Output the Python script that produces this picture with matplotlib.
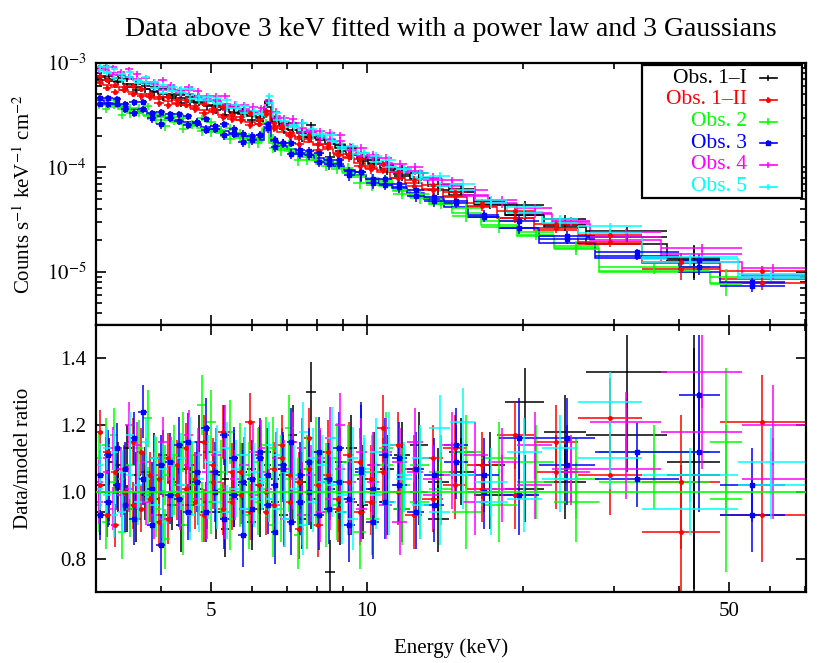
import numpy as np
import matplotlib
matplotlib.use('Agg')
import matplotlib.pyplot as plt
from matplotlib.ticker import FixedLocator, FixedFormatter, NullFormatter, LogLocator
from matplotlib.patches import Rectangle

plt.rcParams['font.family'] = ['Liberation Serif', 'DejaVu Serif']
plt.rcParams['mathtext.fontset'] = 'stix'

# ---------------- data (model in units of 1e-5 counts/s/keV/cm^2) ----------------
labels = ['Obs. 1\u2013I', 'Obs. 1\u2013II', 'Obs. 2', 'Obs. 3', 'Obs. 4', 'Obs. 5']
colors = ['#000000', '#ff0000', '#00ff00', '#0000ff', '#ff00ff', '#00ffff']

edges_1I = [3.00, 3.12, 3.25, 3.38, 3.52, 3.66, 3.81, 3.96, 4.12, 4.29, 4.46, 4.64, 4.83, 5.02,
            5.22, 5.43, 5.65, 5.88, 6.12, 6.32, 6.52, 6.78, 7.05, 7.34, 7.64, 7.96, 8.30, 8.68,
            9.10, 9.56, 10.06, 10.62, 11.28, 12.10, 13.10, 14.40, 16.10, 18.50, 22.00, 26.50,
            38.00, 48.00]
model_1I = [73.5, 69.6, 66.0, 62.5, 59.4, 56.5, 53.8, 51.0, 48.5, 46.2, 43.9, 41.8, 39.8, 37.9,
            36.0, 34.2, 32.5, 31.0, 29.6, 38.2, 28.0, 24.9, 23.0, 21.3, 19.7, 18.2, 16.6, 15.2,
            13.5, 12.1, 10.9, 9.8, 8.7, 7.7, 6.6, 5.5, 4.45, 3.47, 2.7, 1.83, 1.24]
ratioA_1I = [1.02, 0.97, 1.08, 0.95, 1.05, 0.99, 1.10, 0.93, 1.03, 1.07, 0.96, 1.01, 1.12, 0.94,
             1.04, 0.98, 1.06, 0.91, 1.02, 1.08, 0.97, 1.05, 1.00, 0.92, 1.30, 1.03, 0.76, 1.09,
             0.97, 1.04, 1.01, 1.07, 0.95, 1.14, 1.03, 1.06, 0.99, 1.27, 1.03, 1.36, 1.05]
ratioB_1I = [0.94, 1.09, 1.01, 1.13, 0.92, 1.06, 0.98, 1.11, 0.96, 0.90, 1.08, 1.15, 0.97, 1.05,
             0.89, 1.10, 1.02, 1.07, 0.95, 1.12, 1.04, 0.93, 1.17, 1.03, 0.98, 1.09, 1.01, 0.94,
             1.13, 0.96, 1.08, 0.97, 1.11, 1.00, 0.92, 1.12, 1.08, 1.01, 1.18, 1.17, 1.09]
rerr_1I = [0.07, 0.07, 0.07, 0.07, 0.07, 0.075, 0.075, 0.075, 0.075, 0.08, 0.08, 0.08, 0.08, 0.08,
           0.085, 0.085, 0.085, 0.085, 0.085, 0.07, 0.08, 0.09, 0.09, 0.09, 0.09, 0.095, 0.095,
           0.1, 0.1, 0.1, 0.1, 0.1, 0.1, 0.1, 0.1, 0.1, 0.1, 0.1, 0.11, 0.11, 0.38]

edges_1II = [3.00, 3.10, 3.21, 3.33, 3.46, 3.60, 3.74, 3.89, 4.05, 4.21, 4.38, 4.56, 4.75, 4.95,
             5.16, 5.38, 5.60, 5.83, 6.07, 6.30, 6.50, 6.72, 6.98, 7.26, 7.56, 7.88, 8.22, 8.60,
             9.00, 9.44, 9.92, 10.46, 11.08, 11.85, 12.80, 14.00, 15.60, 17.80, 21.00, 25.50,
             34.00, 48.00, 70.00]
model_1II = [64.2, 61.7, 58.5, 55.6, 52.9, 50.4, 47.9, 45.6, 43.3, 41.3, 39.3, 37.3, 35.4, 33.6,
             31.9, 30.2, 28.7, 27.2, 25.8, 34.4, 24.7, 21.9, 20.5, 18.9, 17.6, 16.3, 14.9, 13.7,
             12.2, 11.0, 9.9, 9.0, 8.0, 7.1, 6.2, 5.2, 4.2, 3.3, 2.5, 1.85, 1.22, 0.85]
ratioA_1II = [1.18, 0.93, 1.06, 1.00, 0.96, 1.12, 0.98, 1.04, 0.92, 1.08, 1.01, 0.97, 1.15, 1.03,
              0.95, 1.06, 0.99, 1.21, 1.02, 0.94, 1.07, 1.10, 0.97, 1.03, 1.16, 0.90, 1.05, 0.98,
              1.11, 0.94, 1.04, 1.19, 1.00, 1.07, 0.98, 1.13, 1.01, 1.17, 1.06, 1.22, 0.88, 0.93]
ratioB_1II = [1.02, 1.12, 0.90, 1.07, 1.15, 0.95, 1.05, 0.91, 1.10, 0.99, 1.13, 1.04, 0.93, 1.08,
              1.18, 0.97, 1.06, 0.94, 1.11, 1.00, 0.96, 1.14, 1.05, 0.89, 1.07, 1.02, 1.12, 0.95,
              1.03, 1.09, 0.97, 1.06, 1.14, 0.93, 1.10, 1.02, 1.08, 0.99, 1.15, 1.05, 1.03, 1.21]
rerr_1II = [0.065, 0.065, 0.065, 0.07, 0.07, 0.07, 0.07, 0.075, 0.075, 0.075, 0.075, 0.08, 0.08,
            0.08, 0.08, 0.085, 0.085, 0.085, 0.085, 0.07, 0.08, 0.09, 0.09, 0.09, 0.09, 0.095,
            0.095, 0.1, 0.1, 0.1, 0.1, 0.1, 0.1, 0.1, 0.1, 0.1, 0.1, 0.1, 0.11, 0.12, 0.2, 0.14]

edges_2 = [3.00, 3.08, 3.19, 3.31, 3.43, 3.56, 3.70, 3.85, 4.00, 4.16, 4.33, 4.51, 4.70, 4.90,
           5.11, 5.33, 5.56, 5.80, 6.05, 6.28, 6.48, 6.70, 6.95, 7.22, 7.51, 7.82, 8.16, 8.53,
           8.95, 9.42, 9.95, 10.55, 11.25, 12.10, 13.20, 14.60, 16.60, 19.50, 23.00, 28.00,
           46.00, 53.00]
model_2 = [41.5, 40.0, 38.1, 36.4, 34.6, 33.1, 31.5, 30.1, 28.7, 27.4, 26.1, 25.0, 23.7, 22.6,
           21.5, 20.4, 19.4, 18.4, 17.6, 23.5, 17.1, 15.3, 14.3, 13.4, 12.7, 11.9, 11.0, 10.1,
           9.1, 8.1, 7.4, 6.65, 5.9, 5.2, 4.45, 3.65, 2.8, 2.2, 1.7, 1.0, 0.78]
ratioA_2 = [0.96, 1.14, 1.03, 0.88, 1.08, 1.00, 1.22, 0.95, 1.05, 1.11, 0.90, 1.02, 1.26, 0.97,
            1.06, 1.18, 0.99, 0.93, 1.09, 1.01, 1.13, 0.95, 1.04, 0.87, 1.07, 1.00, 0.94, 1.10,
            0.98, 1.05, 0.92, 1.08, 1.02, 0.97, 1.06, 1.12, 0.96, 1.09, 1.04, 1.03, 1.15]
ratioB_2 = [1.10, 0.91, 1.17, 1.04, 0.95, 1.13, 0.99, 1.08, 0.86, 1.02, 1.15, 1.06, 0.94, 1.21,
            1.01, 0.92, 1.11, 1.05, 0.97, 1.14, 0.90, 1.07, 1.19, 1.00, 0.93, 1.12, 1.04, 0.96,
            1.09, 0.88, 1.06, 1.13, 0.95, 1.08, 1.01, 0.94, 1.10, 1.03, 0.97, 1.12, 0.98]
rerr_2 = [0.08, 0.08, 0.08, 0.08, 0.085, 0.085, 0.085, 0.085, 0.09, 0.09, 0.09, 0.09, 0.09, 0.095,
          0.095, 0.095, 0.095, 0.1, 0.1, 0.085, 0.095, 0.1, 0.1, 0.1, 0.1, 0.105, 0.105, 0.105,
          0.11, 0.11, 0.11, 0.11, 0.11, 0.11, 0.11, 0.11, 0.11, 0.11, 0.12, 0.08, 0.22]

edges_3 = [3.00, 3.11, 3.23, 3.35, 3.48, 3.62, 3.77, 3.92, 4.08, 4.25, 4.42, 4.60, 4.79, 4.99,
           5.20, 5.42, 5.64, 5.87, 6.11, 6.33, 6.53, 6.75, 7.01, 7.29, 7.59, 7.91, 8.25, 8.62,
           9.03, 9.48, 9.98, 10.54, 11.18, 11.95, 12.90, 14.10, 15.70, 18.00, 21.50, 27.50,
           40.00, 48.00, 64.00]
model_3 = [43.9, 41.8, 39.9, 37.9, 36.1, 34.5, 32.8, 31.3, 29.8, 28.4, 27.0, 25.8, 24.5, 23.4,
           22.3, 21.2, 20.2, 19.2, 18.4, 24.6, 17.8, 15.9, 14.9, 13.9, 13.1, 12.2, 11.3, 10.4,
           9.35, 8.45, 7.75, 7.0, 6.3, 5.65, 4.95, 4.2, 3.35, 2.65, 1.91, 1.37, 1.0, 0.78]
ratioA_3 = [1.05, 0.97, 1.13, 1.07, 0.92, 1.24, 1.01, 0.84, 1.09, 0.98, 1.15, 1.03, 0.94, 1.06,
            1.17, 0.99, 0.87, 1.04, 1.10, 0.96, 1.02, 1.08, 0.91, 1.05, 1.00, 1.12, 0.95, 1.03,
            0.90, 1.07, 1.01, 0.97, 1.10, 0.94, 1.05, 1.09, 1.00, 1.16, 1.16, 1.12, 1.29, 0.93]
ratioB_3 = [0.93, 1.11, 1.02, 0.96, 1.16, 1.04, 0.90, 1.08, 0.99, 1.14, 0.94, 1.06, 1.19, 1.00,
            0.92, 1.10, 1.03, 0.95, 1.12, 1.05, 0.88, 1.07, 1.15, 0.97, 1.09, 0.93, 1.04, 1.13,
            0.98, 1.06, 0.91, 1.11, 1.02, 1.07, 0.96, 1.14, 1.05, 0.99, 1.08, 1.04, 1.12, 1.02]
rerr_3 = [0.075, 0.075, 0.075, 0.08, 0.08, 0.08, 0.08, 0.09, 0.085, 0.085, 0.085, 0.09, 0.09,
          0.09, 0.09, 0.095, 0.095, 0.095, 0.1, 0.085, 0.095, 0.1, 0.1, 0.1, 0.1, 0.105, 0.105,
          0.11, 0.11, 0.2, 0.11, 0.11, 0.11, 0.11, 0.11, 0.11, 0.11, 0.12, 0.12, 0.085, 0.18, 0.11]

edges_4 = [3.00, 3.09, 3.18, 3.29, 3.41, 3.54, 3.67, 3.81, 3.96, 4.11, 4.27, 4.44, 4.62, 4.81,
           5.01, 5.22, 5.44, 5.67, 5.91, 6.16, 6.36, 6.56, 6.80, 7.06, 7.34, 7.64, 7.96, 8.30,
           8.67, 9.07, 9.51, 10.00, 10.55, 11.20, 11.95, 12.85, 13.95, 15.30, 17.10, 19.50,
           22.80, 27.00, 37.00, 53.00, 70.00]
model_4 = [88.2, 84.8, 80.9, 76.9, 72.8, 69.2, 65.9, 62.5, 59.3, 56.4, 53.6, 50.8, 48.2, 45.6,
           43.1, 40.8, 38.5, 36.3, 34.2, 32.7, 43.5, 31.2, 27.5, 25.5, 23.6, 21.9, 20.2, 18.6,
           16.9, 15.2, 13.6, 12.2, 11.0, 9.85, 8.75, 7.7, 6.6, 5.5, 4.5, 3.6, 2.85, 2.0, 1.25, 0.9]
ratioA_4 = [1.03, 1.10, 0.95, 1.07, 1.01, 1.14, 0.97, 1.05, 0.92, 1.09, 1.02, 1.17, 0.98, 1.06,
            1.11, 0.94, 1.04, 1.08, 0.99, 1.13, 1.01, 0.96, 1.07, 1.15, 0.93, 1.05, 1.10, 0.98,
            1.20, 1.03, 0.95, 1.08, 1.12, 0.91, 1.06, 1.04, 1.14, 0.97, 1.09, 1.02, 1.07, 1.21,
            1.36, 1.20]
ratioB_4 = [0.97, 1.06, 1.13, 0.99, 1.20, 1.02, 1.09, 0.93, 1.15, 1.04, 0.96, 1.08, 1.11, 0.94,
            1.03, 1.18, 1.00, 0.95, 1.12, 1.06, 0.98, 1.10, 0.92, 1.04, 1.13, 1.00, 0.94, 1.16,
            1.07, 0.97, 1.12, 1.03, 0.96, 1.09, 1.15, 0.99, 1.05, 1.11, 1.01, 1.14, 1.06, 1.07,
            1.18, 1.04]
rerr_4 = [0.065, 0.065, 0.065, 0.065, 0.07, 0.07, 0.07, 0.07, 0.075, 0.075, 0.075, 0.075, 0.08,
          0.08, 0.08, 0.08, 0.085, 0.085, 0.085, 0.085, 0.07, 0.08, 0.085, 0.09, 0.09, 0.09, 0.09,
          0.095, 0.095, 0.095, 0.1, 0.1, 0.1, 0.1, 0.1, 0.1, 0.1, 0.1, 0.1, 0.1, 0.1, 0.09, 0.11,
          0.12]

edges_5 = [3.00, 3.10, 3.20, 3.31, 3.43, 3.55, 3.68, 3.82, 3.97, 4.13, 4.30, 4.47, 4.65, 4.84,
           5.04, 5.25, 5.47, 5.70, 5.94, 6.19, 6.38, 6.58, 6.83, 7.10, 7.39, 7.70, 8.02, 8.37,
           8.75, 9.16, 9.62, 10.12, 10.70, 11.40, 12.20, 13.20, 14.50, 16.20, 18.60, 21.80,
           25.50, 34.00, 52.00, 70.00]
model_5 = [85.4, 81.7, 77.8, 73.9, 70.1, 66.8, 63.6, 60.4, 57.3, 54.2, 51.5, 48.9, 46.3, 43.8,
           41.4, 39.2, 37.1, 34.9, 33.0, 31.4, 42.6, 30.0, 26.5, 24.4, 22.6, 21.0, 19.3, 17.7,
           16.0, 14.5, 12.9, 11.5, 10.4, 9.25, 8.1, 7.0, 5.8, 4.7, 3.75, 2.85, 2.15, 1.32, 0.88]
ratioA_5 = [1.08, 0.99, 1.12, 0.94, 1.05, 1.02, 1.15, 0.96, 1.07, 1.00, 1.10, 0.93, 1.04, 1.09,
            0.97, 1.13, 1.01, 0.95, 1.06, 1.03, 0.98, 1.11, 0.92, 1.05, 1.18, 0.97, 1.08, 1.02,
            0.94, 1.10, 1.06, 0.99, 1.14, 1.04, 0.96, 1.19, 1.05, 0.97, 1.12, 1.04, 1.27, 1.05, 1.09]
ratioB_5 = [1.01, 1.13, 0.93, 1.06, 1.17, 0.97, 1.04, 1.10, 0.91, 1.08, 1.02, 1.15, 0.96, 1.00,
            1.12, 0.94, 1.07, 1.11, 0.98, 1.04, 1.14, 0.95, 1.06, 1.01, 0.90, 1.10, 1.03, 1.16,
            0.99, 0.92, 1.07, 1.12, 0.97, 1.05, 1.10, 0.94, 1.21, 1.03, 0.98, 1.13, 1.10, 0.95, 1.02]
rerr_5 = [0.065, 0.065, 0.065, 0.065, 0.07, 0.07, 0.07, 0.07, 0.075, 0.075, 0.075, 0.075, 0.08,
          0.08, 0.08, 0.08, 0.085, 0.085, 0.085, 0.085, 0.07, 0.08, 0.085, 0.09, 0.09, 0.09, 0.09,
          0.095, 0.095, 0.095, 0.1, 0.1, 0.1, 0.1, 0.1, 0.1, 0.1, 0.1, 0.1, 0.1, 0.09, 0.08, 0.1]

series = [
    (edges_1I, model_1I, ratioA_1I, ratioB_1I, rerr_1I),
    (edges_1II, model_1II, ratioA_1II, ratioB_1II, rerr_1II),
    (edges_2, model_2, ratioA_2, ratioB_2, rerr_2),
    (edges_3, model_3, ratioA_3, ratioB_3, rerr_3),
    (edges_4, model_4, ratioA_4, ratioB_4, rerr_4),
    (edges_5, model_5, ratioA_5, ratioB_5, rerr_5),
]
markers = ['none', 'o', 'none', 's', 'none', 'none']

title = 'Data above 3 keV fitted with a power law and 3 Gaussians'
xtick_major = [5, 10, 50]
xtick_major_labels = ['5', '10', '50']
xtick_minor = [3, 4, 6, 7, 8, 9, 20, 30, 40, 60, 70]
ytop_major = [1e-5, 1e-4, 1e-3]
ytop_labels = [r'$10^{-5}$', r'$10^{-4}$', r'$10^{-3}$']
ybot_major = [0.8, 1.0, 1.2, 1.4]
ybot_labels = ['0.8', '1.0', '1.2', '1.4']

# ---------------- figure ----------------
W, H = 830, 663
fig = plt.figure(figsize=(W / 100, H / 100), dpi=100)
ax1 = fig.add_axes([96 / W, 1 - 325 / H, 710 / W, 262 / H])
ax2 = fig.add_axes([96 / W, 1 - 592 / H, 710 / W, 267 / H], sharex=ax1)

for (edges, model, rA, rB, rerr), col, mk in zip(series, colors, markers):
    e = np.asarray(edges)
    lo, hi = e[:-1], e[1:]
    c = np.sqrt(lo * hi)
    m = np.asarray(model) * 1e-5
    dr = np.asarray(rerr)
    ax1.stairs(m, e, baseline=None, color=col, lw=1.1)
    for r in (np.asarray(rA), np.asarray(rB)):
        ax1.errorbar(c, m * r, xerr=[c - lo, hi - c], yerr=m * dr, fmt=mk, color=col,
                     ms=2.5, elinewidth=1.1, capsize=0)
        ax2.errorbar(c, r, xerr=[c - lo, hi - c], yerr=dr, fmt=mk, color=col,
                     ms=2.5, elinewidth=1.1, capsize=0)

ax2.axhline(1.0, color='#00ff00', lw=1.2, zorder=4)

for ax in (ax1, ax2):
    ax.set_xscale('log')
    ax.set_xlim(3.0, 70.4)
    ax.xaxis.set_major_locator(FixedLocator(xtick_major))
    ax.xaxis.set_minor_locator(FixedLocator(xtick_minor))
    ax.xaxis.set_minor_formatter(NullFormatter())
    ax.tick_params(which='both', direction='in', top=True, right=True, width=1.2,
                   labelsize=15, pad=7)
    ax.tick_params(which='major', length=7)
    ax.tick_params(which='minor', length=4)
    for s in ax.spines.values():
        s.set_linewidth(1.6)

ax1.tick_params(axis='x', which='both', labelbottom=False)
ax2.xaxis.set_major_formatter(FixedFormatter(xtick_major_labels))

ax1.set_yscale('log')
ax1.set_ylim(3.1e-6, 1e-3)
ax1.yaxis.set_major_locator(FixedLocator(ytop_major))
ax1.yaxis.set_major_formatter(FixedFormatter(ytop_labels))
ax1.yaxis.set_minor_locator(LogLocator(base=10, subs=np.arange(2, 10)))
ax1.yaxis.set_minor_formatter(NullFormatter())

ax2.set_ylim(0.7, 1.5)
ax2.yaxis.set_major_locator(FixedLocator(ybot_major))
ax2.yaxis.set_major_formatter(FixedFormatter(ybot_labels))
ax2.yaxis.set_minor_locator(FixedLocator([]))

# legend (drawn manually: labels right-aligned, sample on the right)
box = Rectangle((0.769, 0.485), 0.225, 0.507, transform=ax1.transAxes,
                facecolor='white', edgecolor='black', lw=1.6, zorder=10)
ax1.add_patch(box)
for i, (lab, col, mk) in enumerate(zip(labels, colors, markers)):
    y = 0.942 - i * 0.0828
    ax1.text(0.917, y, lab, transform=ax1.transAxes, ha='right', va='center',
             color=col, fontsize=15.5, zorder=11)
    ax1.plot([0.935, 0.959], [y, y], transform=ax1.transAxes, color=col, lw=1.2, zorder=11)
    ax1.plot([0.947, 0.947], [y - 0.008, y + 0.008], transform=ax1.transAxes, color=col,
             lw=1.2, zorder=11)
    if mk != 'none':
        ax1.plot([0.947], [y], transform=ax1.transAxes, color=col, marker=mk, ms=2.5, zorder=11)

fig.text(451 / W, 1 - 30 / H, title, ha='center', va='center', fontsize=20)
fig.text(24 / W, 1 - 194 / H, r'Counts s$^{-1}$ keV$^{-1}$ cm$^{-2}$', rotation=90,
         ha='center', va='center', fontsize=15)
fig.text(24 / W, 1 - 458 / H, 'Data/model ratio', rotation=90, ha='center', va='center',
         fontsize=15)
fig.text(451 / W, 1 - 648 / H, 'Energy (keV)', ha='center', va='center', fontsize=15)

fig.savefig('out.png', dpi=100)
